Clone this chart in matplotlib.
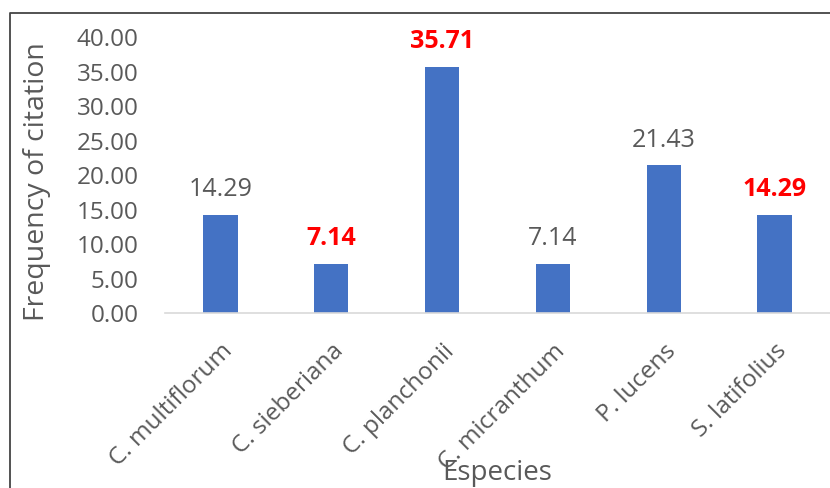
import matplotlib
matplotlib.use("Agg")
import matplotlib.pyplot as plt
import matplotlib.lines as mlines

# ── data ───────────────────────────────────────────────────────────────────────
species = ["C. multiflorum", "C. sieberiana", "C. planchonii",
           "C. micranthum", "P. lucens", "S. latifolius"]
frequency = [14.29, 7.14, 35.71, 7.14, 21.43, 14.29]
highlight = [False, True, True, False, False, True]
y_ticks = [0, 5, 10, 15, 20, 25, 30, 35, 40]

# ── style ──────────────────────────────────────────────────────────────────────
plt.rcParams.update({
    "font.family": ["Open Sans", "DejaVu Sans"],
    "figure.facecolor": "white",
    "axes.facecolor": "white",
})
GREY = "#595959"
BAR_C = "#4472C4"

W, H = 830, 488
fig = plt.figure(figsize=(W / 100, H / 100), dpi=100)
ax = fig.add_axes([165 / W, 1 - 313 / H, 1 - 165 / W, (313 - 37.4) / H])

x = range(len(species))
ax.bar(x, frequency, width=0.31, color=BAR_C, zorder=2)

for xi, v, hl in zip(x, frequency, highlight):
    ax.annotate(f"{v:.2f}", (xi, v), xytext=(0, 9), textcoords="offset points",
                ha="center", va="bottom", fontsize=18,
                color="#FF0000" if hl else GREY,
                fontweight="bold" if hl else "normal")

ax.set_xlim(-0.5, len(species) - 0.5)
ax.set_ylim(0, 40)
ax.set_yticks(y_ticks)
ax.set_yticklabels([f"{t:.2f}" for t in y_ticks], fontsize=17.5, color=GREY)
ax.set_xticks(list(x))
ax.set_xticklabels(species, rotation=45, ha="right", rotation_mode="anchor",
                   fontsize=17.5, color=GREY)
ax.tick_params(length=0)
ax.tick_params(axis="y", pad=19)
ax.tick_params(axis="x", pad=19)

for s in ("top", "right", "left"):
    ax.spines[s].set_visible(False)
ax.spines["bottom"].set_color("#D9D9D9")
ax.spines["bottom"].set_linewidth(1.2)

fig.text(37 / W, 1 - 182 / H, "Frequency of citation", rotation=90,
         ha="center", va="center", fontsize=20.5, color=GREY)
fig.text(497 / W, 1 - 480 / H, "Especies", ha="center", va="baseline",
         fontsize=20, color=GREY)

# border line of the original chart frame (left and top)
fig.add_artist(mlines.Line2D([9.5 / W, 9.5 / W, 1], [0, 1 - 12.5 / H, 1 - 12.5 / H],
                             transform=fig.transFigure, color="#444444", lw=1.3))

fig.savefig("out.png", dpi=100)
